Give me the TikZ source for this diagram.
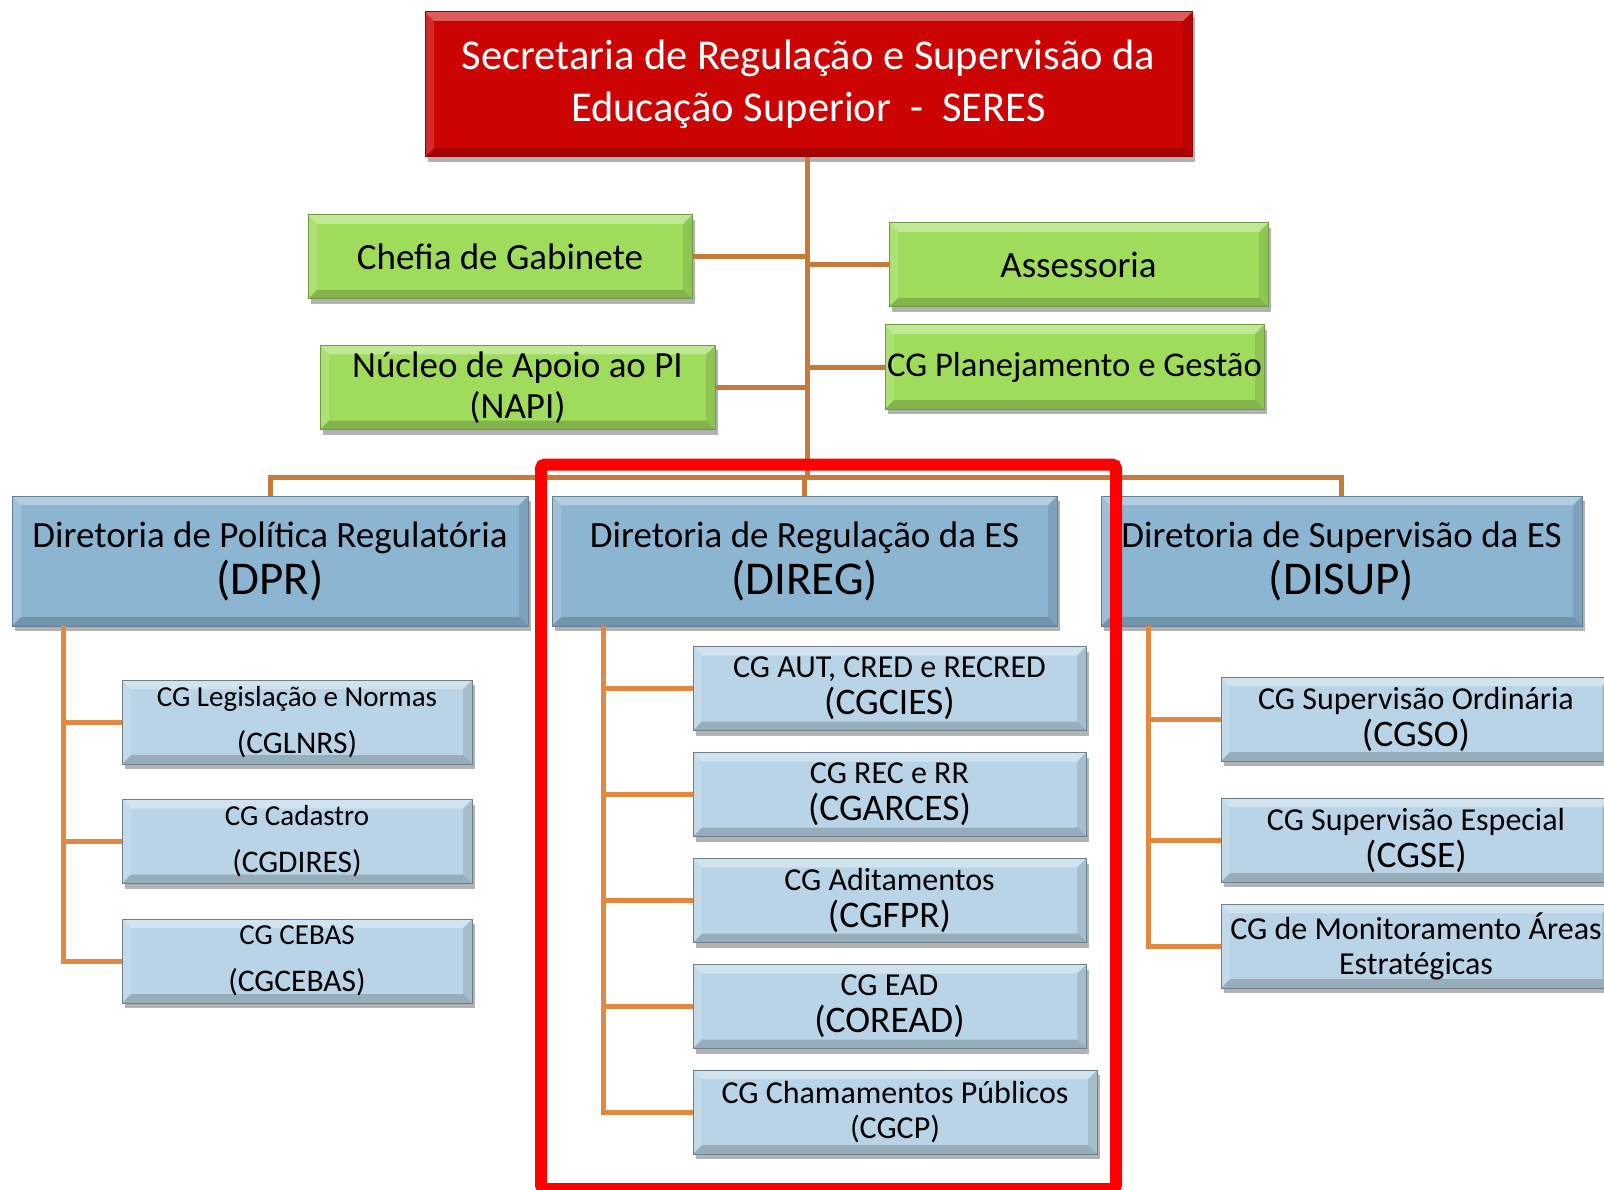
\documentclass[tikz,border=0pt]{standalone}
\usepackage{fontspec}
\setmainfont{Carlito}
\usepackage{xcolor}
\usetikzlibrary{positioning}
\usetikzlibrary{shadows}

\definecolor{seresred}{RGB}{204,4,4}
\definecolor{apoiogreen}{RGB}{160,220,92}
\definecolor{dirblue}{RGB}{140,181,210}
\definecolor{cgblue}{RGB}{184,212,230}
\definecolor{linkdark}{RGB}{200,122,58}
\definecolor{linklight}{RGB}{226,136,64}

\begin{document}
\begin{tikzpicture}[x=1pt,y=-1pt,node distance=106pt,
    bevel/.style={path picture={
      \coordinate (nw) at (path picture bounding box.north west);
      \coordinate (ne) at (path picture bounding box.north east);
      \coordinate (sw) at (path picture bounding box.south west);
      \coordinate (se) at (path picture bounding box.south east);
      \fill[white,opacity=0.35] (nw) -- (ne) -- ([xshift=-9pt,yshift=-9pt]ne) -- ([xshift=9pt,yshift=-9pt]nw) -- cycle;
      \fill[white,opacity=0.15] (nw) -- (sw) -- ([xshift=9pt,yshift=9pt]sw) -- ([xshift=9pt,yshift=-9pt]nw) -- cycle;
      \fill[black,opacity=0.18] (sw) -- (se) -- ([xshift=-9pt,yshift=9pt]se) -- ([xshift=9pt,yshift=9pt]sw) -- cycle;
      \fill[black,opacity=0.10] (ne) -- (se) -- ([xshift=-9pt,yshift=9pt]se) -- ([xshift=-9pt,yshift=-9pt]ne) -- cycle;}},
    box/.style={draw=black!30,line width=1pt,inner sep=0pt,align=center,bevel,
      drop shadow={shadow xshift=3pt,shadow yshift=-5pt,fill=black,opacity=0.3}},
    top node/.style={box,fill=seresred,draw=seresred!70!black,text=white,
      minimum width=767pt,minimum height=145pt,font=\fontsize{42.5}{52}\selectfont},
    apoio node/.style={box,fill=apoiogreen,draw=apoiogreen!70!black,
      minimum height=84pt,font=\fontsize{37}{41}\selectfont},
    dir node/.style={box,fill=dirblue,draw=dirblue!70!black,
      minimum height=130pt,font=\fontsize{37}{47}\selectfont},
    cg node/.style={box,fill=cgblue,draw=cgblue!60!black,
      minimum height=84pt,font=\fontsize{32}{37}\selectfont},
    link/.style={linkdark,line width=5pt},
    sublink/.style={linklight,line width=5pt}]
\useasboundingbox (0,0) rectangle (1604,1190);

% secretaria
\node[top node] (seres) at (808.5,84.5)
  {Secretaria de Regulação e Supervisão da\\Educação Superior \ - \ SERES};

% gabinete e assessorias
\node[apoio node,minimum width=384pt] (chefia) at (500,257) {Chefia de Gabinete};
\node[apoio node,minimum width=395pt] (napi) at (517.5,387.5) {Núcleo de Apoio ao PI\\(NAPI)};
\node[apoio node,minimum width=379pt] (assessoria) at (1078.5,265) {Assessoria};
\node[apoio node,minimum width=379pt,font=\fontsize{34.7}{41}\selectfont] (cgpg) at (1074.5,367) {CG Planejamento e Gestão};

% diretorias
\node[dir node,minimum width=516pt] (dpr) at (270,561)
  {Diretoria de Política Regulatória\\{\fontsize{47}{50}\selectfont (DPR)}};
\node[dir node,minimum width=505pt] (direg) at (804.5,561)
  {Diretoria de Regulação da ES\\{\fontsize{47}{50}\selectfont (DIREG)}};
\node[dir node,minimum width=481pt] (disup) at (1341.5,561)
  {Diretoria de Supervisão da ES\\{\fontsize{47}{50}\selectfont (DISUP)}};

% DPR
\node[cg node,minimum width=350pt,font=\fontsize{29}{47}\selectfont] (cglnrs) at (297,722)
  {CG Legislação e Normas\\{\fontsize{31.5}{47}\selectfont (CGLNRS)}};
\node[cg node,minimum width=350pt,font=\fontsize{29}{47}\selectfont] (cgdires) [below of=cglnrs,node distance=119.5pt]
  {CG Cadastro\\{\fontsize{31.5}{47}\selectfont (CGDIRES)}};
\node[cg node,minimum width=350pt,font=\fontsize{29}{47}\selectfont] (cgcebas) [below of=cgdires,node distance=119.5pt]
  {CG CEBAS\\{\fontsize{31.5}{47}\selectfont (CGCEBAS)}};

% DIREG
\node[cg node,minimum width=393pt] (cgcies) at (889.5,688.5)
  {CG AUT, CRED e RECRED\\{\fontsize{37.5}{40}\selectfont (CGCIES)}};
\node[cg node,minimum width=393pt] (cgarces) [below of=cgcies]
  {CG REC e RR\\{\fontsize{37.5}{40}\selectfont (CGARCES)}};
\node[cg node,minimum width=393pt] (cgfpr) [below of=cgarces]
  {CG Aditamentos\\{\fontsize{37.5}{40}\selectfont (CGFPR)}};
\node[cg node,minimum width=393pt] (coread) [below of=cgfpr]
  {CG EAD\\{\fontsize{37.5}{40}\selectfont (COREAD)}};
\node[cg node,minimum width=404pt,font=\fontsize{32}{35}\selectfont] (cgcp) at (895,1112)
  {CG Chamamentos Públicos\\(CGCP)};

% DISUP
\node[cg node,minimum width=390pt] (cgso) at (1416,719)
  {CG Supervisão Ordinária\\{\fontsize{37.5}{40}\selectfont (CGSO)}};
\node[cg node,minimum width=390pt] (cgse) [below of=cgso,node distance=121pt]
  {CG Supervisão Especial\\{\fontsize{37.5}{40}\selectfont (CGSE)}};
\node[cg node,minimum width=390pt,font=\fontsize{32}{35}\selectfont] (cgmae) at (1416,946)
  {CG de Monitoramento Áreas\\Estratégicas};

% ligacoes superiores
\coordinate (barra) at (807,477);
\draw[link] (seres.south -| barra) -- (barra);
\draw[link] (chefia.east) -- (chefia.east -| barra);
\draw[link] (napi.east) -- (napi.east -| barra);
\draw[link] (assessoria.west) -- (assessoria.west -| barra);
\draw[link] (cgpg.west) -- (cgpg.west -| barra);
\draw[link] (dpr.north) |- (barra) -| (disup.north);
\draw[link] (direg.north) -- (direg.north |- barra);

% ligacoes das diretorias
\coordinate (dprbus) at (63,626);
\coordinate (diregbus) at (603,626);
\coordinate (disupbus) at (1148,626);
\draw[sublink] (dprbus) |- (cgcebas.west);
\draw[sublink] (cglnrs.west) -- (cglnrs.west -| dprbus);
\draw[sublink] (cgdires.west) -- (cgdires.west -| dprbus);
\draw[sublink] (diregbus) |- (cgcp.west);
\foreach \n in {cgcies,cgarces,cgfpr,coread}
  \draw[sublink] (\n.west) -- (\n.west -| diregbus);
\draw[sublink] (disupbus) |- (cgmae.west);
\draw[sublink] (cgso.west) -- (cgso.west -| disupbus);
\draw[sublink] (cgse.west) -- (cgse.west -| disupbus);

% destaque DIREG
\draw[red,line width=12pt,rounded corners=4pt] (541,464.5) rectangle (1116,1189);
\end{tikzpicture}
\end{document}
